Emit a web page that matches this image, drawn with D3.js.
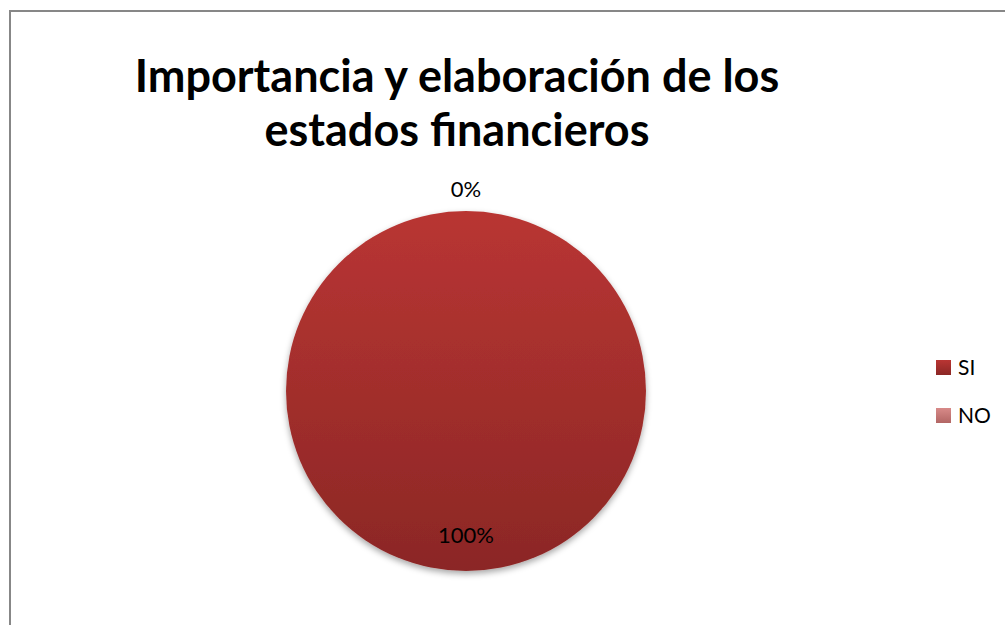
<!DOCTYPE html>
<html>
<head>
<meta charset="utf-8">
<script src="https://cdn.jsdelivr.net/npm/d3@7/dist/d3.min.js"></script>
<style>
  html, body { margin: 0; padding: 0; background: #fff; }
  svg { display: block; }
</style>
</head>
<body>
<svg id="chart" width="1005" height="625"></svg>
<script>
// Survey answers and their share of responses
const categories = ["SI", "NO"];
const values = [100, 0];
const titleLines = ["Importancia y elaboración de los", "estados financieros"];

const width = 1005, height = 625;
const svg = d3.select("#chart");
const font = "Lato, 'Open Sans', sans-serif";

const defs = svg.append("defs");
const gradSI = defs.append("linearGradient").attr("id", "gSI")
  .attr("x1", 0).attr("y1", 0).attr("x2", 0).attr("y2", 1);
gradSI.append("stop").attr("offset", "0%").attr("stop-color", "#b93533");
gradSI.append("stop").attr("offset", "100%").attr("stop-color", "#8b2725");
const gradNO = defs.append("linearGradient").attr("id", "gNO")
  .attr("x1", 0).attr("y1", 0).attr("x2", 0).attr("y2", 1);
gradNO.append("stop").attr("offset", "0%").attr("stop-color", "#d88a89");
gradNO.append("stop").attr("offset", "100%").attr("stop-color", "#b26664");

const shadow = defs.append("filter").attr("id", "shadow")
  .attr("x", "-20%").attr("y", "-20%").attr("width", "140%").attr("height", "140%");
shadow.append("feDropShadow").attr("dx", 0).attr("dy", 3).attr("stdDeviation", 3)
  .attr("flood-color", "#000").attr("flood-opacity", 0.35);

// Chart frame
svg.append("rect").attr("x", 10).attr("y", 11).attr("width", 1100).attr("height", 700)
  .attr("fill", "#fff").attr("stroke", "#878787").attr("stroke-width", 2);

// Title
svg.append("g").selectAll("text").data(titleLines).join("text")
  .attr("x", 457).attr("y", (d, i) => 92 + i * 54)
  .attr("text-anchor", "middle")
  .attr("font-family", font).attr("font-weight", "bold").attr("font-size", 45)
  .attr("fill", "#000").text(d => d);

const color = d3.scaleOrdinal().domain(categories).range(["url(#gSI)", "url(#gNO)"]);

const cx = 466, cy = 391, r = 180;
const pie = d3.pie().sort(null).value(d => d.value);
const arcs = pie(categories.map((c, i) => ({ cat: c, value: values[i] })));
const arc = d3.arc().innerRadius(0).outerRadius(r);

const g = svg.append("g").attr("transform", `translate(${cx},${cy})`);
g.append("g").attr("filter", "url(#shadow)")
  .selectAll("path").data(arcs).join("path")
  .attr("d", arc)
  .attr("fill", d => color(d.data.cat));

const total = d3.sum(values);
const pct = d => Math.round(d.data.value / total * 100) + "%";
const filled = d => d.endAngle - d.startAngle > 0;
// Data labels: inside for the full slice, outside when the slice is empty
g.selectAll("text.lbl").data(arcs).join("text")
  .attr("class", "lbl")
  .attr("text-anchor", "middle")
  .attr("font-family", font).attr("font-size", 22).attr("fill", "#000")
  .attr("transform", d => {
    const a = (d.startAngle + d.endAngle) / 2;
    const rr = filled(d) ? r * 0.80 : r + 14;
    return `translate(${Math.sin(a) * rr},${-Math.cos(a) * rr})`;
  })
  .attr("dy", d => filled(d) ? "0.35em" : "0")
  .text(pct);

// Legend
const legend = svg.append("g").attr("transform", "translate(936,360)");
const item = legend.selectAll("g").data(categories).join("g")
  .attr("transform", (d, i) => `translate(0,${i * 48})`);
item.append("rect").attr("width", 15).attr("height", 15)
  .attr("fill", d => color(d));
item.append("text").attr("x", 22).attr("y", 14.5)
  .attr("font-family", font).attr("font-size", 21).attr("fill", "#000")
  .text(d => d);
</script>
</body>
</html>
